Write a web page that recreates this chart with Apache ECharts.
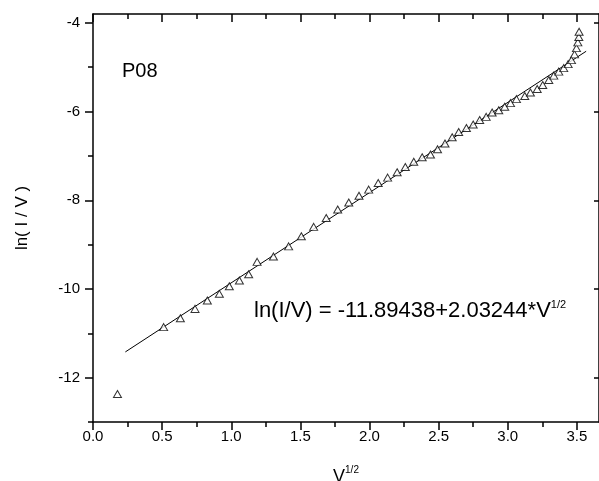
<!DOCTYPE html>
<html>
<head>
<meta charset="utf-8">
<script src="https://cdn.jsdelivr.net/npm/echarts@6/dist/echarts.min.js"></script>
<style>html,body{margin:0;padding:0;background:#fff}#c{width:599px;height:481px}</style>
</head>
<body>
<div id="c"></div>
<script>
// Measured data: x = V^(1/2), y = ln(I/V)
var sqrtV = [0.177,0.511,0.632,0.738,0.827,0.914,0.986,1.059,1.126,1.187,
  1.305,1.415,1.507,1.596,1.687,1.770,1.850,1.924,1.994,2.063,
  2.131,2.200,2.259,2.320,2.381,2.441,2.492,2.546,2.598,2.645,
  2.701,2.750,2.797,2.844,2.887,2.935,2.978,3.020,3.063,3.123,
  3.164,3.213,3.253,3.297,3.333,3.369,3.405,3.437,3.461,3.483,
  3.497,3.507,3.514,3.516];
var lnIV = [-12.37,-10.86,-10.66,-10.45,-10.26,-10.11,-9.94,-9.81,-9.67,-9.39,
  -9.27,-9.04,-8.81,-8.60,-8.40,-8.21,-8.05,-7.90,-7.76,-7.61,
  -7.49,-7.37,-7.25,-7.13,-7.03,-6.97,-6.85,-6.72,-6.58,-6.46,
  -6.37,-6.29,-6.19,-6.12,-6.02,-5.97,-5.89,-5.81,-5.72,-5.65,
  -5.57,-5.49,-5.40,-5.29,-5.19,-5.10,-5.02,-4.93,-4.84,-4.71,
  -4.57,-4.44,-4.32,-4.20];
// Linear fit line end points
var fitX = [0.234, 3.567];
var fitY = [-11.42, -4.64];
// Tick labels
var xMajor = [0,0.5,1,1.5,2,2.5,3,3.5];
var xMinor = [0.25,0.75,1.25,1.75,2.25,2.75,3.25];
var yMajor = [-12,-10,-8,-6,-4];
var yMinor = [-13,-11,-9,-7,-5];

var XMIN = 0, XMAX = 3.66, YMIN = -13, YMAX = -3.8;
var FONT = 'Liberation Sans, Arial, sans-serif';
var lineStyle = {color:'#000', width:1.5};

function xAx(pos, ticks, len, inside, labels, showLine) {
  return {
    type:'value', position:pos, min:XMIN, max:XMAX,
    axisLine:{show:showLine, onZero:false, lineStyle:lineStyle},
    axisTick:{show:true, inside:inside, length:len, customValues:ticks, lineStyle:{color:'#000', width:1.5}},
    axisLabel:{show:labels, customValues:ticks, margin:7, color:'#000', fontSize:15, fontFamily:FONT,
      formatter:function(v){return v.toFixed(1);}},
    splitLine:{show:false}
  };
}
function yAx(pos, ticks, len, inside, labels, showLine) {
  return {
    type:'value', position:pos, min:YMIN, max:YMAX,
    axisLine:{show:showLine, onZero:false, lineStyle:lineStyle},
    axisTick:{show:true, inside:inside, length:len, customValues:ticks, lineStyle:{color:'#000', width:1.5}},
    axisLabel:{show:labels, customValues:ticks, margin:13, color:'#000', fontSize:15, fontFamily:FONT,
      formatter:function(v){return String(v);}},
    splitLine:{show:false}
  };
}

var xa0 = xAx('bottom', xMajor, 8, false, true, true);
xa0.name = '{v|V}{s|1/2}';
xa0.nameLocation = 'middle';
xa0.nameGap = 43;
xa0.nameTextStyle = {rich:{v:{fontSize:18, fontFamily:FONT, color:'#000', verticalAlign:'bottom'},
  s:{fontSize:10, fontFamily:FONT, color:'#000', verticalAlign:'top', padding:[0,0,11,0]}}};
var ya0 = yAx('left', yMajor, 8, false, true, true);
ya0.name = 'ln( I / V )';
ya0.nameLocation = 'middle';
ya0.nameGap = 62;
ya0.nameTextStyle = {fontSize:17, fontFamily:FONT, color:'#000'};

var chart = echarts.init(document.getElementById('c'), null, {renderer:'canvas'});
chart.setOption({
  backgroundColor:'#fff',
  animation:false,
  grid:{left:93, top:14, right:0, bottom:59, containLabel:false, outerBoundsMode:'none'},
  xAxis:[
    xa0,
    xAx('bottom', xMinor, 5, false, false, false),
    xAx('top', xMajor, 8, true, false, true),
    xAx('top', xMinor, 5, true, false, false)
  ],
  yAxis:[
    ya0,
    yAx('left', yMinor, 5, false, false, false),
    yAx('right', yMajor, 5, true, false, true)
  ],
  series:[
    {
      type:'line', xAxisIndex:0, yAxisIndex:0,
      data: fitX.map(function(x,i){return [x, fitY[i]];}),
      showSymbol:false, symbol:'none',
      lineStyle:{color:'#000', width:1},
      silent:true, z:2
    },
    {
      type:'scatter', xAxisIndex:0, yAxisIndex:0,
      data: sqrtV.map(function(x,i){return [x, lnIV[i]];}),
      symbol:'triangle', symbolSize:[8,7],
      itemStyle:{color:'#fff', borderColor:'#000', borderWidth:1},
      z:3
    }
  ],
  graphic:[
    {type:'text', left:122, top:61, style:{text:'P08', font:'20px ' + FONT, fill:'#000'}},
    {type:'text', left:254, top:299, style:{
      text:'{m|ln(I/V) = -11.89438+2.03244*V}{s|1/2}',
      rich:{m:{fontSize:22, fontFamily:FONT, fill:'#000', verticalAlign:'bottom'},
            s:{fontSize:11, fontFamily:FONT, fill:'#000', verticalAlign:'top', padding:[0,0,12,0]}}
    }}
  ]
});
</script>
</body>
</html>
